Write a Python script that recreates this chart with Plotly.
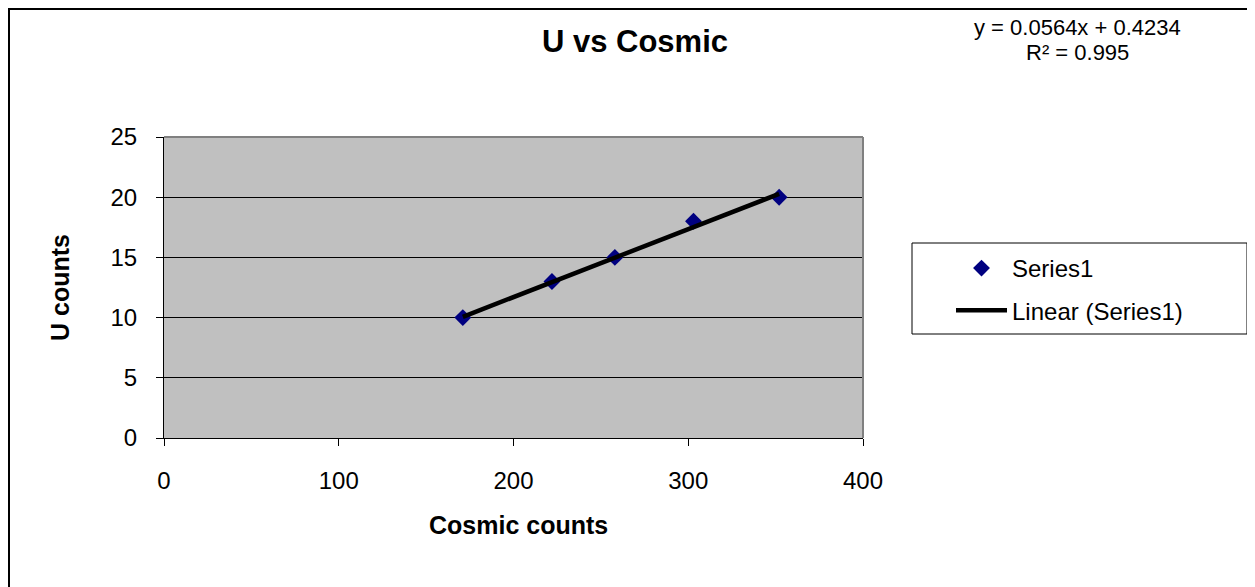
"""U vs Cosmic scatter with linear trendline"""
import plotly.graph_objects as go

# data
cosmic_counts = [171, 222, 258, 303, 352]
u_counts = [10, 13, 15, 18, 20]

# trendline coefficients as printed on the chart
slope = 0.0564
intercept = 0.4234
r_squared = 0.995

x_ticks = [0, 100, 200, 300, 400]
y_ticks = [0, 5, 10, 15, 20, 25]

FONT = "Arial, Liberation Sans, sans-serif"

# the page adds an 8px body margin, so the figure is a bit smaller than the window
OFF = 8
W, H = 1255 - OFF, 587 - OFF
L, T = 164 - OFF, 137 - OFF
pw, ph = 699, 301
R, B = W - L - pw, H - T - ph


def page_to_paper(x, y):
    """Convert page pixel coords (as in the reference picture) to paper coords."""
    return (x - OFF - L) / pw, (H - B - (y - OFF)) / ph


fig = go.Figure()

fig.add_trace(go.Scatter(
    x=cosmic_counts, y=u_counts, mode='markers', name='Series1', legendgroup='a',
    marker=dict(symbol='diamond', size=13, color='#000080'),
))

trend_x = [min(cosmic_counts), max(cosmic_counts)]
trend_y = [slope * v + intercept for v in trend_x]
fig.add_trace(go.Scatter(
    x=trend_x, y=trend_y, mode='lines', name='Linear (Series1)', legendgroup='b',
    line=dict(color='black', width=4.5),
))

fig.update_xaxes(
    range=[0, 400], tickvals=x_ticks, showgrid=False, zeroline=False,
    showline=True, linecolor='black', linewidth=1,
    ticks='outside', ticklen=7, tickcolor='black', ticklabelstandoff=14,
    tickfont=dict(family=FONT, size=24, color='black'),
)
fig.update_yaxes(
    range=[0, 25], tickvals=y_ticks, showgrid=True, gridcolor='black', gridwidth=1,
    zeroline=False, showline=True, linecolor='black', linewidth=1,
    ticks='outside', ticklen=7, tickcolor='black', ticklabelstandoff=14,
    tickfont=dict(family=FONT, size=24, color='black'),
)

# gray frame on top and right edge of the plot area
fig.add_shape(type='line', xref='paper', yref='paper', x0=0, x1=1, y0=1, y1=1,
              line=dict(color='#808080', width=2), layer='above')
fig.add_shape(type='line', xref='paper', yref='paper', x0=1, x1=1, y0=0, y1=1,
              line=dict(color='#808080', width=2), layer='above')

# outer chart border
bx0, by0 = page_to_paper(9, 620)
bx1, by1 = page_to_paper(1253, 9)
fig.add_shape(type='rect', xref='paper', yref='paper', x0=bx0, x1=bx1, y0=by0, y1=by1,
              line=dict(color='black', width=2))

# legend box
gx0, gy0 = page_to_paper(912, 334)
gx1, gy1 = page_to_paper(1247, 243)
fig.add_shape(type='rect', xref='paper', yref='paper', x0=gx0, x1=gx1, y0=gy0, y1=gy1,
              line=dict(color='black', width=1), fillcolor='white', layer='below')

# axis titles
ax, ay = page_to_paper(518, 525)
fig.add_annotation(xref='paper', yref='paper', x=ax, y=ay, showarrow=False,
                   xanchor='center', yanchor='middle',
                   text='<b>Cosmic counts</b>', font=dict(family=FONT, size=25, color='black'))
ax, ay = page_to_paper(60, 288)
fig.add_annotation(xref='paper', yref='paper', x=ax, y=ay, showarrow=False, textangle=-90,
                   xanchor='center', yanchor='middle',
                   text='<b>U counts</b>', font=dict(family=FONT, size=25, color='black'))

# trendline equation
ex, ey = page_to_paper(1077, 27)
fig.add_annotation(xref='paper', yref='paper', x=ex, y=ey, showarrow=False,
                   xanchor='center', yanchor='middle',
                   text=f'y = {slope}x + {intercept}',
                   font=dict(family=FONT, size=22, color='black'))
ex, ey = page_to_paper(1077, 52)
fig.add_annotation(xref='paper', yref='paper', x=ex, y=ey, showarrow=False,
                   xanchor='center', yanchor='middle',
                   text=f'R² = {r_squared}',
                   font=dict(family=FONT, size=22, color='black'))

lx, ly = page_to_paper(951, 246)
fig.update_layout(
    width=W, height=H,
    margin=dict(l=L, r=R, t=T, b=B),
    paper_bgcolor='white', plot_bgcolor='#C0C0C0',
    title=dict(text='<b>U vs Cosmic</b>', xref='container', x=(635 - OFF) / W,
               xanchor='center', y=1 - (41 - OFF) / H, yanchor='middle',
               font=dict(family=FONT, size=31, color='black')),
    legend=dict(x=lx, y=ly, xanchor='left', yanchor='top', bgcolor='rgba(0,0,0,0)',
                borderwidth=0, traceorder='grouped', tracegroupgap=8,
                font=dict(family=FONT, size=24, color='black'),
                itemwidth=51),
    showlegend=True,
)

fig.write_html("out.html")
